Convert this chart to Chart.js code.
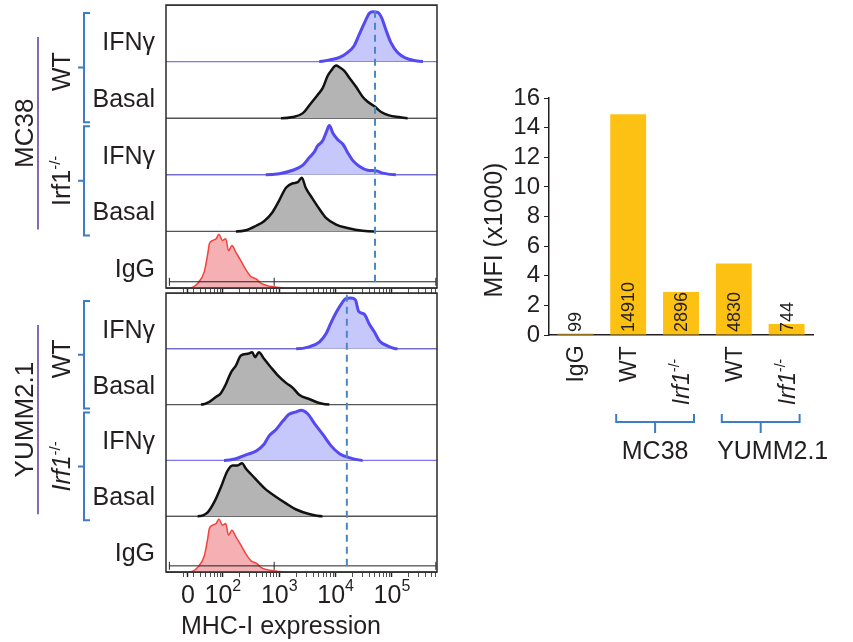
<!DOCTYPE html>
<html>
<head>
<meta charset="utf-8">
<script src="https://cdn.jsdelivr.net/npm/chart.js@4.4.1/dist/chart.umd.min.js"></script>
<style>
  body { margin: 0; background: #fff; width: 853px; height: 642px; position: relative; overflow: hidden; }
  canvas { position: absolute; }
</style>
</head>
<body>
<canvas id="mc38" width="445" height="300" style="left:0;top:0"></canvas>
<canvas id="yumm" width="445" height="354" style="left:0;top:288px"></canvas>
<canvas id="bars" width="408" height="420" style="left:445px;top:60px"></canvas>
<script>
// histogram x values are in axis decades (biexponential display), heights are a fraction of the row
const mc38WtIfnX = [3.71, 3.89, 4.07, 4.21, 4.33, 4.42, 4.51, 4.60, 4.66, 4.75, 4.82, 4.89, 4.98, 5.10, 5.25, 5.39, 5.55];
const mc38WtIfnH = [0, 0.03, 0.075, 0.16, 0.28, 0.48, 0.68, 0.855, 0.88, 0.87, 0.77, 0.57, 0.34, 0.16, 0.06, 0.02, 0];
const mc38WtBasalX = [3.03, 3.24, 3.42, 3.56, 3.68, 3.77, 3.86, 3.92, 4.01, 4.07, 4.15, 4.24, 4.36, 4.48, 4.57, 4.69, 4.81, 4.95, 5.13, 5.28];
const mc38WtBasalH = [0, 0.02, 0.09, 0.26, 0.41, 0.53, 0.75, 0.84, 0.93, 0.90, 0.84, 0.72, 0.56, 0.38, 0.29, 0.21, 0.11, 0.05, 0.02, 0];
const mc38KoIfnX = [2.76, 3.00, 3.24, 3.42, 3.53, 3.62, 3.68, 3.77, 3.83, 3.89, 3.95, 4.04, 4.13, 4.21, 4.30, 4.42, 4.57, 4.72, 4.84, 5.07];
const mc38KoIfnH = [0, 0.02, 0.08, 0.17, 0.30, 0.40, 0.51, 0.60, 0.74, 0.87, 0.74, 0.62, 0.54, 0.40, 0.26, 0.15, 0.08, 0.07, 0.03, 0];
const mc38KoBasalX = [2.23, 2.41, 2.59, 2.73, 2.88, 3.00, 3.12, 3.24, 3.33, 3.40, 3.47, 3.59, 3.71, 3.83, 4.01, 4.21, 4.48, 4.69];
const mc38KoBasalH = [0, 0.02, 0.10, 0.18, 0.34, 0.55, 0.77, 0.85, 0.87, 0.95, 0.77, 0.58, 0.40, 0.24, 0.12, 0.06, 0.01, 0];
const iggX = [1.40, 1.55, 1.67, 1.73, 1.76, 1.82, 1.88, 1.93, 1.99, 2.05, 2.10, 2.16, 2.23, 2.32, 2.41, 2.50, 2.59, 2.68, 2.79, 3.00, 3.24];
const iggH = [0, 0.08, 0.29, 0.60, 0.78, 0.84, 0.87, 0.95, 0.84, 0.87, 0.66, 0.75, 0.63, 0.48, 0.32, 0.20, 0.16, 0.08, 0.04, 0.01, 0];
const yummWtIfnX = [3.30, 3.53, 3.71, 3.83, 3.92, 4.01, 4.10, 4.18, 4.27, 4.35, 4.41, 4.51, 4.60, 4.69, 4.78, 4.93, 5.10];
const yummWtIfnH = [0, 0.035, 0.12, 0.27, 0.47, 0.65, 0.80, 0.90, 0.91, 0.88, 0.67, 0.62, 0.44, 0.30, 0.14, 0.05, 0];
const yummWtBasalX = [1.61, 1.76, 1.88, 1.96, 2.05, 2.14, 2.23, 2.32, 2.44, 2.52, 2.57, 2.64, 2.73, 2.85, 2.97, 3.12, 3.24, 3.36, 3.53, 3.71, 3.89];
const yummWtBasalH = [0, 0.05, 0.14, 0.20, 0.36, 0.57, 0.70, 0.88, 0.91, 0.94, 0.85, 0.94, 0.82, 0.67, 0.53, 0.39, 0.30, 0.17, 0.10, 0.03, 0];
const yummKoIfnX = [2.02, 2.23, 2.41, 2.59, 2.73, 2.82, 2.94, 3.06, 3.18, 3.30, 3.39, 3.50, 3.62, 3.77, 3.92, 4.07, 4.24, 4.48];
const yummKoIfnH = [0, 0.03, 0.10, 0.17, 0.29, 0.44, 0.55, 0.70, 0.83, 0.87, 0.90, 0.84, 0.67, 0.47, 0.26, 0.12, 0.05, 0];
const yummKoBasalX = [1.55, 1.73, 1.85, 1.96, 2.08, 2.17, 2.26, 2.34, 2.41, 2.53, 2.64, 2.76, 2.94, 3.12, 3.30, 3.53, 3.77];
const yummKoBasalH = [0, 0.07, 0.26, 0.51, 0.81, 0.91, 0.91, 0.95, 0.85, 0.72, 0.60, 0.48, 0.35, 0.23, 0.12, 0.04, 0];

const mc38RefLine = 4.70;
const yummRefLine = 4.20;
const gateX = [1.05, 2.91, 5.78];
const gateHeight = 0.11;

const rowNames = ['IFNγ', 'Basal', 'IFNγ', 'Basal', 'IgG'];
const xMin = 0.99, xMax = 5.8;
const majorTicks = [1.38, 2, 3, 4, 5];
const majorTickLabels = ['0', '10^2', '10^3', '10^4', '10^5'];

// bar chart
const barCategories = ['IgG', 'WT', 'Irf1-/-', 'WT', 'Irf1-/-'];
const mfiValues = [0.099, 14.91, 2.896, 4.83, 0.744];
const mfiLabels = ['99', '14910', '2896', '4830', '744'];
const groupNames = ['MC38', 'YUMM2.1'];
const groupMembers = [[1, 2], [3, 4]];

const fam = '"Liberation Sans", Arial, Helvetica, sans-serif';
const ink = '#231f20';
const bracketBlue = '#3d7dc3';

const kinds = {
  ifn: { line: '#5549f0', fill: '#c6c8fb', width: 3, baseWidth: 1.2, baseColor: '#7d74f2' },
  basal: { line: '#111111', fill: '#b4b4b4', width: 2.5, baseWidth: 1.2, baseColor: '#555555' },
  igg: { line: '#f2433f', fill: '#f5b0b3', width: 1.5, baseWidth: 1.5, baseColor: '#f2433f' }
};

// tick marks on the flow axis: decades plus log minors
const axisTicks = majorTicks.map(v => ({ value: v, major: true }));
[1, 2, 3, 4, 5].forEach(d => {
  for (let k = 2; k <= 9; k++) {
    const v = d + Math.log10(k);
    if (v > 1.2 && v < xMax) axisTicks.push({ value: v, major: false });
  }
});
axisTicks.sort((a, b) => a.value - b.value);

function histDataset(xs, hs, base, kind) {
  const st = kinds[kind];
  const pts = [{ x: xMin, y: base }];
  xs.forEach((x, i) => pts.push({ x: x, y: base + hs[i] }));
  pts.push({ x: xMax, y: base });
  const flat = c => pts[c.p0DataIndex].y === base && pts[c.p1DataIndex].y === base;
  return {
    data: pts,
    borderColor: st.line,
    backgroundColor: st.fill,
    borderWidth: st.width,
    fill: { value: base },
    pointRadius: 0,
    cubicInterpolationMode: 'monotone',
    order: 2,
    segment: {
      borderWidth: c => flat(c) ? st.baseWidth : st.width,
      borderColor: c => flat(c) ? st.baseColor : st.line
    }
  };
}

// text made of parts (for superscripts / italics), optionally rotated -90deg
function richText(ctx, parts, x, y, align, rotated) {
  ctx.save();
  ctx.translate(x, y);
  if (rotated) ctx.rotate(-Math.PI / 2);
  ctx.textBaseline = 'alphabetic';
  ctx.textAlign = 'left';
  let total = 0;
  parts.forEach(p => { ctx.font = p.font; p.w = ctx.measureText(p.t).width; total += p.w; });
  let cx = align === 'center' ? -total / 2 : (align === 'right' ? -total : 0);
  parts.forEach(p => { ctx.font = p.font; ctx.fillText(p.t, cx, p.dy || 0); cx += p.w; });
  ctx.restore();
}

function koParts(size, italic) {
  return [
    { t: 'Irf1', font: (italic ? 'italic ' : '') + size + 'px ' + fam },
    { t: '-/-', font: Math.round(size * 0.6) + 'px ' + fam, dy: -size * 0.42 }
  ];
}

function bracketV(ctx, x, y1, y2) {
  ctx.beginPath();
  ctx.moveTo(x + 6, y1); ctx.lineTo(x, y1); ctx.lineTo(x, y2); ctx.lineTo(x + 6, y2);
  const m = (y1 + y2) / 2;
  ctx.moveTo(x, m); ctx.lineTo(x - 6, m);
  ctx.stroke();
}

function panelPlugin(p) {
  return {
    id: 'panelDecor',
    afterDraw(chart) {
      const ctx = chart.ctx, a = chart.chartArea, ys = chart.scales.y, xs = chart.scales.x;
      const py = v => ys.getPixelForValue(v);
      ctx.save();
      ctx.strokeStyle = '#2a2a2a';
      ctx.lineWidth = 1.5;
      ctx.strokeRect(a.left, a.top, a.right - a.left, a.bottom - a.top);

      ctx.fillStyle = ink;
      ctx.font = '25px ' + fam;
      ctx.textAlign = 'right';
      ctx.textBaseline = 'middle';
      rowNames.forEach((n, i) => ctx.fillText(n, 155, py(4 - i + 0.32)));

      ctx.strokeStyle = bracketBlue;
      ctx.lineWidth = 2;
      const wt = [py(5) + 8, py(3) + 4], ko = [py(3) + 8, py(1) + 4];
      bracketV(ctx, 84, wt[0], wt[1]);
      bracketV(ctx, 84, ko[0], ko[1]);
      richText(ctx, [{ t: 'WT', font: '25px ' + fam }], 70, (wt[0] + wt[1]) / 2 + 4, 'center', true);
      richText(ctx, koParts(25, p.koItalic), 70, (ko[0] + ko[1]) / 2, 'center', true);

      ctx.strokeStyle = '#8a6aae';
      ctx.beginPath();
      const l1 = py(5) + 32, l2 = py(1) - 2;
      ctx.moveTo(38, l1); ctx.lineTo(38, l2);
      ctx.stroke();
      richText(ctx, [{ t: p.name, font: '26px ' + fam }], 33, (l1 + l2) / 2, 'center', true);

      if (p.showAxis) {
        majorTicks.forEach((v, i) => {
          const s = majorTickLabels[i].split('^');
          const parts = [{ t: s[0], font: '25px ' + fam }];
          if (s[1]) parts.push({ t: s[1], font: '16px ' + fam, dy: -12 });
          richText(ctx, parts, xs.getPixelForValue(v), a.bottom + 31, 'center', false);
        });
        richText(ctx, [{ t: 'MHC-I expression', font: '25px ' + fam }], 281, a.bottom + 62, 'center', false);
      }
      ctx.restore();
    }
  };
}

function makePanel(p) {
  const datasets = p.rows.map((r, i) => histDataset(r.x, r.h, 4 - i, r.kind));
  datasets.push({
    data: gateX.map(v => ({ x: v, y: gateHeight })),
    borderColor: '#222', borderWidth: 1, fill: false, order: 1,
    pointStyle: 'line', pointRotation: 90, pointRadius: 4,
    pointBorderColor: '#222', pointBorderWidth: 1
  });
  datasets.push({
    data: [{ x: p.ref, y: gateHeight }, { x: p.ref, y: 5 }],
    borderColor: '#4b87c7', borderWidth: 2, borderDash: [7, 5],
    pointRadius: 0, fill: false, order: 0
  });
  new Chart(document.getElementById(p.id), {
    type: 'line',
    data: { datasets: datasets },
    options: {
      responsive: false,
      animation: false,
      events: [],
      layout: { padding: p.padding },
      plugins: { legend: { display: false }, tooltip: { enabled: false } },
      scales: {
        x: {
          type: 'linear', min: xMin, max: xMax,
          afterBuildTicks: s => { s.ticks = axisTicks.map(t => ({ value: t.value, major: t.major })); },
          ticks: { display: false, autoSkip: false },
          grid: {
            drawOnChartArea: false, tickLength: 5, tickColor: '#222',
            tickWidth: c => (c.tick && c.tick.major) ? 1.5 : 0.8
          },
          border: { display: false }
        },
        y: {
          min: 0, max: 5,
          ticks: { display: false, stepSize: 1 },
          grid: { color: '#555', lineWidth: 1, drawTicks: false },
          border: { display: false }
        }
      }
    },
    plugins: [panelPlugin(p)]
  });
}

makePanel({
  id: 'mc38', name: 'MC38', koItalic: false, ref: mc38RefLine, showAxis: false,
  padding: { left: 166, right: 8, top: 5, bottom: 7 },
  rows: [
    { x: mc38WtIfnX, h: mc38WtIfnH, kind: 'ifn' },
    { x: mc38WtBasalX, h: mc38WtBasalH, kind: 'basal' },
    { x: mc38KoIfnX, h: mc38KoIfnH, kind: 'ifn' },
    { x: mc38KoBasalX, h: mc38KoBasalH, kind: 'basal' },
    { x: iggX, h: iggH, kind: 'igg' }
  ]
});

makePanel({
  id: 'yumm', name: 'YUMM2.1', koItalic: true, ref: yummRefLine, showAxis: true,
  padding: { left: 166, right: 8, top: 4, bottom: 65 },
  rows: [
    { x: yummWtIfnX, h: yummWtIfnH, kind: 'ifn' },
    { x: yummWtBasalX, h: yummWtBasalH, kind: 'basal' },
    { x: yummKoIfnX, h: yummKoIfnH, kind: 'ifn' },
    { x: yummKoBasalX, h: yummKoBasalH, kind: 'basal' },
    { x: iggX, h: iggH, kind: 'igg' }
  ]
});

// bar chart decorations: value labels, rotated category labels, group brackets, axis title
const barDecor = {
  id: 'barDecor',
  afterDraw(chart) {
    const ctx = chart.ctx, a = chart.chartArea, xs = chart.scales.x;
    ctx.save();
    ctx.fillStyle = ink;
    mfiLabels.forEach((t, i) => {
      ctx.save();
      ctx.translate(xs.getPixelForValue(i), a.bottom - 3);
      ctx.rotate(-Math.PI / 2);
      ctx.font = '18px ' + fam;
      ctx.textAlign = 'left';
      ctx.textBaseline = 'middle';
      ctx.fillText(t, 0, 1);
      ctx.restore();
    });
    barCategories.forEach((c, i) => {
      const cx = xs.getPixelForValue(i) + 8;
      if (c.indexOf('Irf1') === 0) {
        richText(ctx, koParts(23, true), cx, a.bottom + 47, 'center', true);
      } else {
        richText(ctx, [{ t: c, font: '23px ' + fam }], cx, a.bottom + 29, 'center', true);
      }
    });
    ctx.strokeStyle = bracketBlue;
    ctx.lineWidth = 2;
    groupMembers.forEach((g, k) => {
      const x1 = xs.getPixelForValue(g[0]) - 12, x2 = xs.getPixelForValue(g[1]) + 13;
      const top = a.bottom + 79, mid = a.bottom + 87, m = (x1 + x2) / 2;
      ctx.beginPath();
      ctx.moveTo(x1, top); ctx.lineTo(x1, mid); ctx.lineTo(x2, mid); ctx.lineTo(x2, top);
      ctx.moveTo(m, mid); ctx.lineTo(m, mid + 11);
      ctx.stroke();
      richText(ctx, [{ t: groupNames[k], font: '25px ' + fam }], m + (k === 1 ? 12 : 0), a.bottom + 124, 'center', false);
    });
    richText(ctx, [{ t: 'MFI (x1000)', font: '25px ' + fam }], 57, 170, 'center', true);
    ctx.restore();
  }
};

new Chart(document.getElementById('bars'), {
  type: 'bar',
  data: {
    labels: barCategories,
    datasets: [{
      data: mfiValues,
      backgroundColor: '#fdc114',
      borderWidth: 0,
      barPercentage: 0.68,
      categoryPercentage: 1
    }]
  },
  options: {
    responsive: false,
    animation: false,
    events: [],
    layout: { padding: { left: 44, right: 40, top: 38, bottom: 145 } },
    plugins: { legend: { display: false }, tooltip: { enabled: false } },
    scales: {
      x: {
        grid: { display: false, drawTicks: false },
        ticks: { display: false },
        border: { color: ink, width: 1.5 },
        afterFit: s => { s.height = 0; }
      },
      y: {
        min: 0, max: 16,
        ticks: { stepSize: 2, autoSkip: false, font: { family: fam, size: 24 }, color: ink, padding: 4 },
        grid: { drawOnChartArea: false, tickLength: 5, color: ink, tickColor: ink },
        border: { color: ink, width: 1.5 },
        afterFit: s => { s.width = 60; }
      }
    }
  },
  plugins: [barDecor]
});
</script>
</body>
</html>
